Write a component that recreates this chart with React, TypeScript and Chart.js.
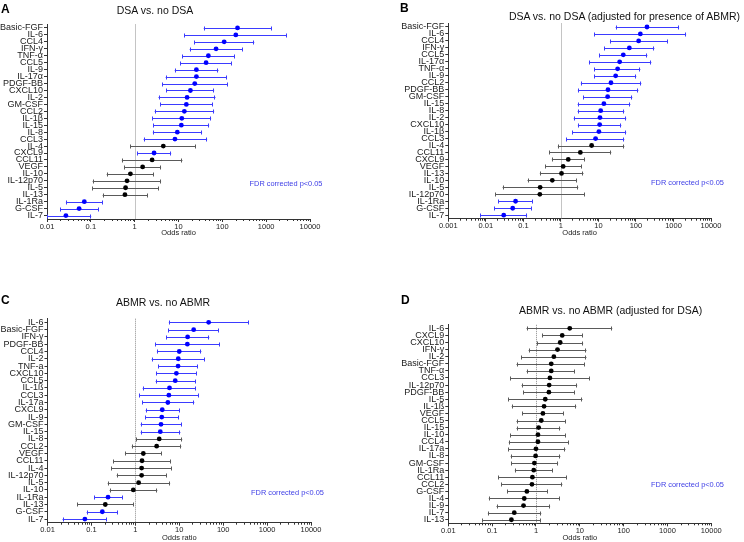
import React, { useEffect, useRef } from "react";
import { Chart, registerables } from "chart.js";

Chart.register(...registerables);

// ---------- Panel A: DSA vs. no DSA ----------
const labelsA = ["Basic-FGF", "IL-6", "CCL4", "IFN-γ", "TNF-α", "CCL5", "IL-9", "IL-17α", "PDGF-BB", "CXCL10", "IL-2", "GM-CSF", "CCL2", "IL-1β", "IL-15", "IL-8", "CCL3", "IL-4", "CXCL9", "CCL11", "VEGF", "IL-10", "IL-12p70", "IL-5", "IL-13", "IL-1Ra", "G-CSF", "IL-7"];
const orA = [222, 203, 110, 72, 48, 42.6, 25.6, 25.6, 23.5, 18.7, 15.7, 15.1, 13.6, 11.9, 11.6, 9.4, 8.3, 4.5, 2.77, 2.5, 1.52, 0.8, 0.67, 0.62, 0.6, 0.071, 0.054, 0.027];
const loA = [37.7, 13.6, 23, 18, 12.3, 11, 8.2, 5.1, 4.2, 5.3, 3.5, 3.8, 2.86, 2.5, 2.67, 2.6, 1.6, 0.8, 1.13, 0.51, 0.58, 0.23, 0.11, 0.108, 0.186, 0.027, 0.02, 0.01];
const hiA = [1325, 2960, 535, 294, 193, 164, 81.6, 128, 133, 65, 69.7, 60.5, 65, 55.5, 50, 34.5, 45, 25, 6.8, 12.3, 4.0, 2.7, 4.0, 3.5, 1.98, 0.186, 0.15, 0.102];
const sigA = [1, 1, 1, 1, 1, 1, 1, 1, 1, 1, 1, 1, 1, 1, 1, 1, 1, 0, 1, 0, 0, 0, 0, 0, 0, 1, 1, 1];

// ---------- Panel B: DSA vs. no DSA (adjusted for presence of ABMR) ----------
const labelsB = ["Basic-FGF", "IL-6", "CCL4", "IFN-γ", "CCL5", "IL-17α", "TNF-α", "IL-9", "CCL2", "PDGF-BB", "GM-CSF", "IL-15", "IL-8", "IL-2", "CXCL10", "IL-1β", "CCL3", "IL-4", "CCL11", "CXCL9", "VEGF", "IL-13", "IL-10", "IL-5", "IL-12p70", "IL-1Ra", "G-CSF", "IL-7"];
const orB = [197, 131, 118, 66.7, 46, 36.8, 32.5, 28.8, 21.6, 18, 17.6, 14, 11.5, 11, 10.8, 10.3, 8.4, 6.6, 3.3, 1.57, 1.15, 1.04, 0.59, 0.28, 0.275, 0.062, 0.052, 0.03];
const loB = [28.8, 7.8, 20.3, 14.3, 10.5, 5.6, 7.8, 7.8, 3.4, 2.84, 3.9, 2.8, 2.8, 2.2, 2.84, 2.0, 1.39, 0.83, 0.49, 0.575, 0.38, 0.275, 0.129, 0.028, 0.018, 0.0217, 0.0166, 0.007];
const hiB = [1410, 2170, 703, 310, 201, 257, 131, 102, 139, 116, 80, 71, 49, 55, 40.7, 55, 49, 49, 22, 4.4, 3.56, 4.0, 2.7, 2.9, 4.3, 0.18, 0.17, 0.126];
const sigB = [1, 1, 1, 1, 1, 1, 1, 1, 1, 1, 1, 1, 1, 1, 1, 1, 1, 0, 0, 0, 0, 0, 0, 0, 0, 1, 1, 1];

// ---------- Panel C: ABMR vs. no ABMR ----------
const labelsC = ["IL-6", "Basic-FGF", "IFN-γ", "PDGF-BB", "CCL4", "IL-2", "TNF-a", "CXCL10", "CCL5", "IL-1ß", "CCL3", "IL-17a", "CXCL9", "IL-9", "GM-CSF", "IL-15", "IL-8", "CCL2", "VEGF", "CCL11", "IL-4", "IL-12p70", "IL-5", "IL-10", "IL-1Ra", "IL-13", "G-CSF", "IL-7"];
const orC = [46.7, 21.3, 15.5, 15.3, 10, 9.5, 9.4, 8.6, 8.1, 6.0, 5.8, 5.5, 4.1, 4.0, 3.84, 3.7, 3.5, 3.06, 1.52, 1.42, 1.39, 1.39, 1.19, 0.9, 0.239, 0.207, 0.177, 0.071];
const loC = [5.8, 5.6, 5.1, 2.8, 3.1, 2.35, 3.3, 2.95, 2.9, 1.47, 1.21, 1.42, 1.72, 1.66, 1.32, 1.32, 1.05, 0.83, 0.58, 0.31, 0.28, 0.376, 0.235, 0.26, 0.115, 0.047, 0.078, 0.022];
const hiC = [380, 79, 48.3, 83, 31.9, 38.5, 26.7, 24.9, 24, 24, 27.7, 22, 10.2, 9.7, 11.3, 10.6, 11.7, 11.1, 4.0, 6.5, 6.8, 5.2, 6.2, 3.17, 0.515, 0.92, 0.4, 0.223];
const sigC = [1, 1, 1, 1, 1, 1, 1, 1, 1, 1, 1, 1, 1, 1, 1, 1, 0, 0, 0, 0, 0, 0, 0, 0, 1, 0, 1, 1];

// ---------- Panel D: ABMR vs. no ABMR (adjusted for DSA) ----------
const labelsD = ["IL-6", "CXCL9", "CXCL10", "IFN-γ", "IL-2", "Basic-FGF", "TNF-α", "CCL3", "IL-12p70", "PDGF-BB", "IL-5", "IL-1ß", "VEGF", "CCL5", "IL-15", "IL-10", "CCL4", "IL-17a", "IL-8", "GM-CSF", "IL-1Ra", "CCL11", "CCL2", "G-CSF", "IL-4", "IL-9", "IL-7", "IL-13"];
const orD = [5.9, 3.97, 3.57, 3.1, 2.56, 2.23, 2.23, 2.08, 2.0, 1.97, 1.63, 1.53, 1.44, 1.32, 1.15, 1.11, 1.11, 1.0, 0.98, 0.92, 0.89, 0.83, 0.81, 0.62, 0.54, 0.52, 0.32, 0.275];
const loD = [0.61, 1.37, 1.03, 0.68, 0.46, 0.36, 0.61, 0.257, 0.47, 0.51, 0.23, 0.28, 0.48, 0.36, 0.36, 0.257, 0.24, 0.235, 0.265, 0.27, 0.33, 0.139, 0.163, 0.22, 0.084, 0.126, 0.08, 0.059];
const hiD = [55, 11.7, 11.9, 14.2, 14.2, 13, 7.6, 16.9, 8.7, 7.7, 11.5, 8.3, 4.3, 4.8, 3.6, 4.8, 5.6, 4.7, 3.6, 3.2, 2.4, 5.0, 4.0, 1.84, 3.5, 2.1, 1.32, 1.28];
const sigD = [0, 0, 0, 0, 0, 0, 0, 0, 0, 0, 0, 0, 0, 0, 0, 0, 0, 0, 0, 0, 0, 0, 0, 0, 0, 0, 0, 0];

const FONT = "'Liberation Sans', Arial, Helvetica, sans-serif";
const BLUE = "#0000ff";
const BLUE_BAR = "#3b3bff";
const BLACK = "#000000";
const GRAY_BAR = "#5a5a5a";

type PanelGeom = {
  left: number; top: number; width: number; height: number;
  areaLeft: number; areaRight: number; areaTop: number; areaBottom: number;
  titleY: number; xmin: number; xmax: number;
};

type PanelProps = {
  geom: PanelGeom;
  labels: string[]; or: number[]; lo: number[]; hi: number[]; sig: number[];
};

function ForestPanel({ geom, labels, or, lo, hi, sig }: PanelProps) {
  const ref = useRef<HTMLCanvasElement | null>(null);
  useEffect(() => {
    if (!ref.current) return;
    const g = geom;
    const axisBoxBottom = g.titleY - g.top + 4.5; // title line height 9 => half 4.5
    const padBottom = g.height - axisBoxBottom;
    const xHeight = axisBoxBottom - (g.areaBottom - g.top);

    const decades: number[] = [];
    for (let e = Math.round(Math.log10(g.xmin)); e <= Math.round(Math.log10(g.xmax)); e++) {
      decades.push(Math.pow(10, e));
    }

    const errorBars = {
      id: "errorBars",
      beforeDatasetsDraw(chart: any) {
        const { ctx, chartArea, scales } = chart;
        const xs = scales.x;
        const ys = scales.y;
        ctx.save();
        // reference line at OR = 1
        const x1 = xs.getPixelForValue(1);
        ctx.strokeStyle = "#8a8a8a";
        ctx.lineWidth = 1;
        ctx.setLineDash([1, 1]);
        ctx.beginPath();
        ctx.moveTo(Math.round(x1) + 0.5, chartArea.top);
        ctx.lineTo(Math.round(x1) + 0.5, chartArea.bottom);
        ctx.stroke();
        ctx.setLineDash([]);
        // confidence intervals
        for (let i = 0; i < labels.length; i++) {
          const y = Math.round(ys.getPixelForValue(i)) + 0.5;
          const a = xs.getPixelForValue(lo[i]);
          const b = xs.getPixelForValue(hi[i]);
          ctx.strokeStyle = sig[i] ? BLUE_BAR : GRAY_BAR;
          ctx.lineWidth = 1;
          ctx.beginPath();
          ctx.moveTo(a, y);
          ctx.lineTo(b, y);
          ctx.moveTo(Math.round(a) + 0.5, y - 2);
          ctx.lineTo(Math.round(a) + 0.5, y + 2);
          ctx.moveTo(Math.round(b) - 0.5, y - 2);
          ctx.lineTo(Math.round(b) - 0.5, y + 2);
          ctx.stroke();
        }
        ctx.restore();
      },
      afterDraw(chart: any) {
        const { ctx, chartArea, scales } = chart;
        const xs = scales.x;
        ctx.save();
        ctx.strokeStyle = "#333";
        ctx.lineWidth = 1;
        ctx.beginPath();
        for (let d = 0; d < decades.length - 1; d++) {
          for (let k = 2; k <= 9; k++) {
            const px = Math.round(xs.getPixelForValue(decades[d] * k)) + 0.5;
            ctx.moveTo(px, chartArea.bottom);
            ctx.lineTo(px, chartArea.bottom + 2);
          }
        }
        ctx.stroke();
        ctx.restore();
      },
    };

    const chart = new Chart(ref.current, {
      type: "scatter",
      data: {
        datasets: [
          {
            data: labels.map((l, i) => ({ x: or[i], y: l })),
            pointBackgroundColor: sig.map((s) => (s ? BLUE : BLACK)),
            pointBorderWidth: 0,
            pointRadius: 2.4,
            pointHoverRadius: 2.4,
          },
        ],
      },
      options: {
        responsive: false,
        animation: false,
        events: [],
        layout: {
          padding: {
            left: 0,
            top: g.areaTop - g.top,
            right: g.width - (g.areaRight - g.left),
            bottom: padBottom,
          },
        },
        plugins: { legend: { display: false }, tooltip: { enabled: false }, title: { display: false } },
        scales: {
          x: {
            type: "logarithmic",
            min: g.xmin,
            max: g.xmax,
            afterBuildTicks(scale: any) {
              scale.ticks = decades.map((v) => ({ value: v, major: true }));
            },
            afterFit(scale: any) {
              scale.height = xHeight;
            },
            ticks: {
              autoSkip: false,
              maxRotation: 0,
              padding: 0,
              color: "#222",
              font: { family: FONT, size: 7.5 },
              callback: (v: any) => String(Number(v)),
            },
            grid: { drawOnChartArea: false, tickLength: 3, color: "#333", tickColor: "#333" },
            border: { color: "#333", width: 1 },
            title: {
              display: true,
              text: "Odds ratio",
              color: "#222",
              font: { family: FONT, size: 7.5 },
              padding: { top: 0, bottom: 0 },
            },
          },
          y: {
            type: "category",
            labels: labels,
            offset: true,
            afterFit(scale: any) {
              scale.width = g.areaLeft - g.left;
            },
            ticks: {
              autoSkip: false,
              padding: 1,
              color: "#222",
              font: { family: FONT, size: 9, lineHeight: 1 },
            },
            grid: { drawOnChartArea: false, tickLength: 3, color: "#333", tickColor: "#333" },
            border: { color: "#333", width: 1 },
          },
        },
      },
      plugins: [errorBars],
    } as any);
    return () => chart.destroy();
  }, []);
  return (
    <canvas
      ref={ref}
      width={geom.width}
      height={geom.height}
      style={{ position: "absolute", left: geom.left, top: geom.top, width: geom.width, height: geom.height }}
    />
  );
}

const geomA: PanelGeom = { left: 0, top: 0, width: 372, height: 271, areaLeft: 47, areaRight: 310, areaTop: 24.5, areaBottom: 219, titleY: 233, xmin: 0.01, xmax: 10000 };
const geomB: PanelGeom = { left: 372, top: 0, width: 372, height: 271, areaLeft: 448.3, areaRight: 711, areaTop: 23.5, areaBottom: 218.7, titleY: 233.3, xmin: 0.001, xmax: 10000 };
const geomC: PanelGeom = { left: 0, top: 271, width: 372, height: 271, areaLeft: 47.5, areaRight: 311, areaTop: 318.7, areaBottom: 522.7, titleY: 537.7, xmin: 0.01, xmax: 10000 };
const geomD: PanelGeom = { left: 372, top: 271, width: 372, height: 271, areaLeft: 448.3, areaRight: 711.3, areaTop: 324.8, areaBottom: 523.3, titleY: 537.7, xmin: 0.01, xmax: 10000 };

const textBase: React.CSSProperties = { position: "absolute", fontFamily: FONT, whiteSpace: "nowrap", lineHeight: 1 };

function Title({ x, y, text }: { x: number; y: number; text: string }) {
  return (
    <div style={{ ...textBase, left: x, top: y, transform: "translate(-50%, -50%)", fontSize: 10.5, color: "#111" }}>{text}</div>
  );
}
function Letter({ x, y, text }: { x: number; y: number; text: string }) {
  return (
    <div style={{ ...textBase, left: x, top: y, transform: "translateY(-50%)", fontSize: 12, fontWeight: "bold", color: "#000" }}>{text}</div>
  );
}
function Fdr({ x, y }: { x: number; y: number }) {
  return (
    <div style={{ ...textBase, left: x, top: y, transform: "translate(-50%, -50%)", fontSize: 7.4, color: "#3d3de6" }}>FDR corrected p&lt;0.05</div>
  );
}

export default function App() {
  return (
    <div style={{ position: "fixed", left: 0, top: 0, width: 744, height: 542, background: "#fff", overflow: "hidden" }}>
      <ForestPanel geom={geomA} labels={labelsA} or={orA} lo={loA} hi={hiA} sig={sigA} />
      <ForestPanel geom={geomB} labels={labelsB} or={orB} lo={loB} hi={hiB} sig={sigB} />
      <ForestPanel geom={geomC} labels={labelsC} or={orC} lo={loC} hi={hiC} sig={sigC} />
      <ForestPanel geom={geomD} labels={labelsD} or={orD} lo={loD} hi={hiD} sig={sigD} />
      <Letter x={1} y={8.5} text="A" />
      <Letter x={400} y={7.5} text="B" />
      <Letter x={1} y={300} text="C" />
      <Letter x={401} y={299.5} text="D" />
      <Title x={155} y={9.7} text="DSA vs. no DSA" />
      <Title x={624.5} y={15.5} text="DSA vs. no DSA (adjusted for presence of ABMR)" />
      <Title x={163} y={302} text="ABMR vs. no ABMR" />
      <Title x={610.7} y={310} text="ABMR vs. no ABMR (adjusted for DSA)" />
      <Fdr x={286} y={184.3} />
      <Fdr x={687.5} y={182.7} />
      <Fdr x={287.5} y={493.3} />
      <Fdr x={687.5} y={485.3} />
    </div>
  );
}
